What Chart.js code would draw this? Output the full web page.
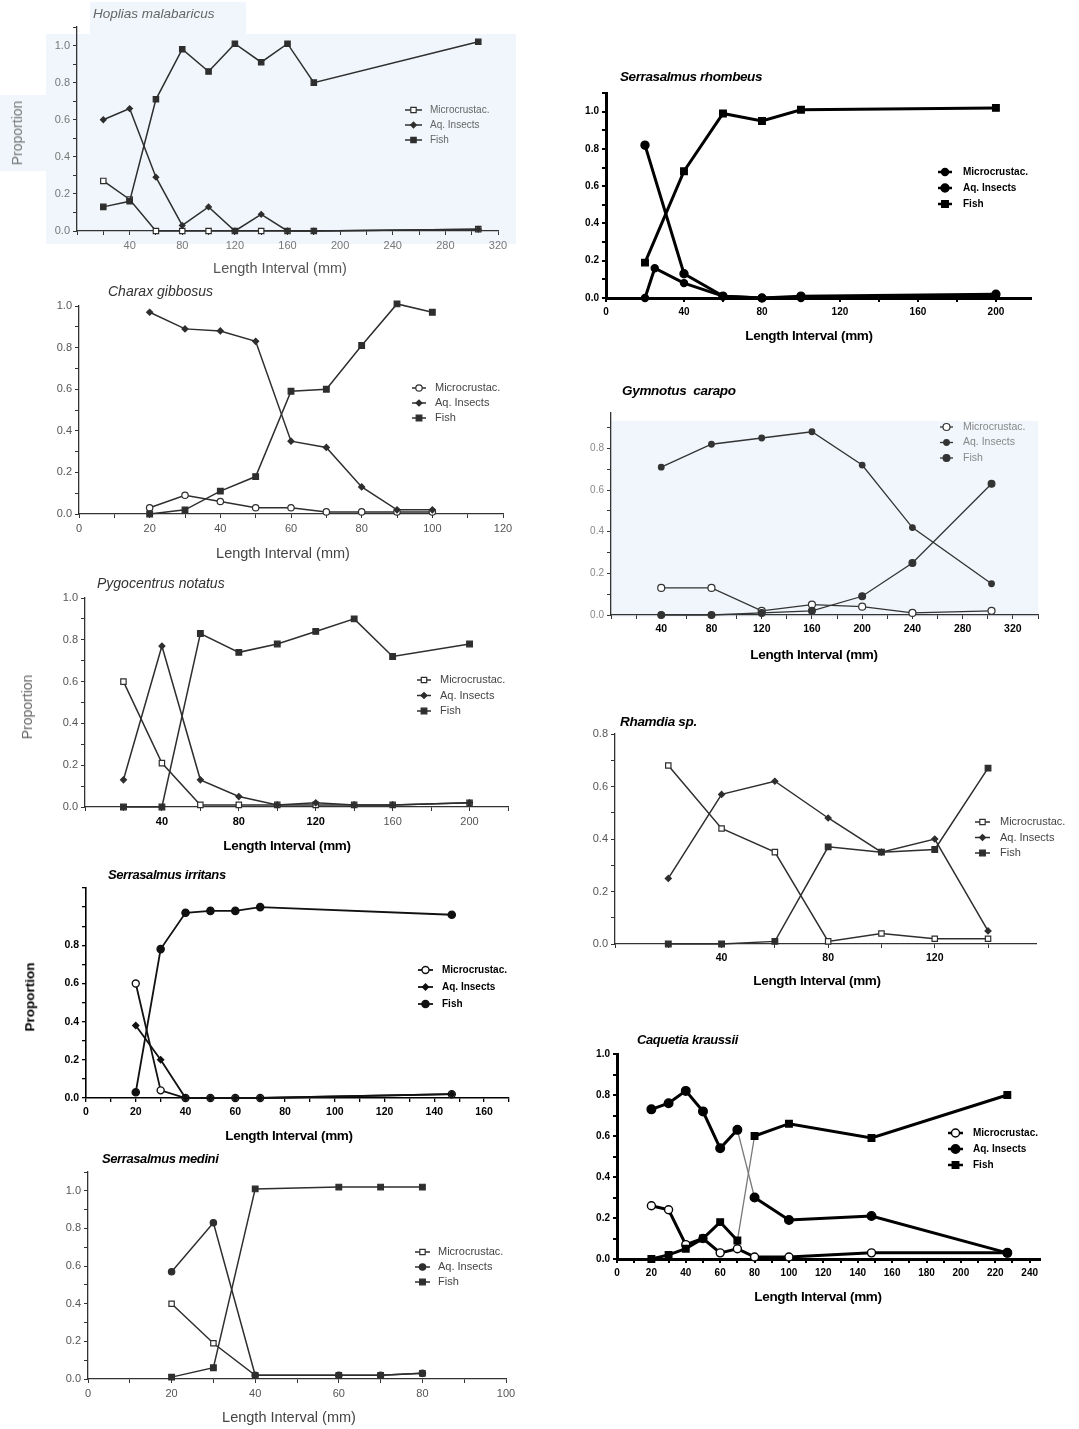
<!DOCTYPE html>
<html>
<head>
<meta charset="utf-8">
<script src="https://cdn.jsdelivr.net/npm/chart.js@4.4.1/dist/chart.umd.min.js"></script>
<style>
body { margin: 0; background: #fff; width: 1079px; height: 1429px; position: relative; overflow: hidden;
       font-family: 'Liberation Sans', Arial, sans-serif; }
canvas { position: absolute; }
.t { position: absolute; white-space: pre; line-height: 1; }
.bg { position: absolute; background: #f0f6fb; }
</style>
</head>
<body>
<div class="bg" style="left:46px;top:34px;width:470px;height:210px"></div>
<div class="bg" style="left:90px;top:2px;width:156px;height:34px"></div>
<div class="bg" style="left:0;top:95px;width:48px;height:76px"></div>
<div class="bg" style="left:610px;top:421px;width:428px;height:196px"></div>
<script>
// ---- data ----
var LABELS = ['Microcrustac.', 'Aq. Insects', 'Fish'];

var hopliasX = [20, 40, 60, 80, 100, 120, 140, 160, 180, 305];
var hopliasMicro = [0.27, 0.17, 0, 0, 0, 0, 0, 0, 0, 0.01];
var hopliasInsects = [0.60, 0.66, 0.29, 0.03, 0.13, 0.0, 0.09, 0.0, 0.0, 0.01];
var hopliasFish = [0.13, 0.16, 0.71, 0.98, 0.86, 1.01, 0.91, 1.01, 0.80, 1.02];

var charaxX = [20, 30, 40, 50, 60, 70, 80, 90, 100];
var charaxMicro = [0.03, 0.09, 0.06, 0.03, 0.03, 0.01, 0.01, 0.01, 0.01];
var charaxInsects = [0.97, 0.89, 0.88, 0.83, 0.35, 0.32, 0.13, 0.02, 0.02];
var charaxFish = [0.0, 0.02, 0.11, 0.18, 0.59, 0.60, 0.81, 1.01, 0.97];

var pygoX = [20, 40, 60, 80, 100, 120, 140, 160, 200];
var pygoMicro = [0.60, 0.21, 0.01, 0.01, 0.01, 0.01, 0.01, 0.01, 0.02];
var pygoInsects = [0.13, 0.77, 0.13, 0.05, 0.01, 0.02, 0.01, 0.01, 0.02];
var pygoFish = [0.0, 0.0, 0.83, 0.74, 0.78, 0.84, 0.90, 0.72, 0.78];

var irritansX = [20, 30, 40, 50, 60, 70, 147];
var irritansMicro = [0.60, 0.04, 0.0, 0.0, 0.0, 0.0, 0.02];
var irritansInsects = [0.38, 0.20, 0.0, 0.0, 0.0, 0.0, 0.02];
var irritansFish = [0.03, 0.78, 0.97, 0.98, 0.98, 1.00, 0.96];

var mediniX = [20, 30, 40, 60, 70, 80];
var mediniMicro = [0.40, 0.19, 0.02, 0.02, 0.02, 0.03];
var mediniInsects = [0.57, 0.83, 0.02, 0.02, 0.02, 0.03];
var mediniFish = [0.01, 0.06, 1.01, 1.02, 1.02, 1.02];

var rhombeusX = [20, 40, 60, 80, 100, 200];
var rhombeusMicroX = [20, 25, 40, 60, 80, 100, 200];
var rhombeusMicro = [0.0, 0.16, 0.08, 0.01, 0.0, 0.0, 0.01];
var rhombeusInsects = [0.82, 0.13, 0.01, 0.0, 0.01, 0.02];
var rhombeusFish = [0.19, 0.68, 0.99, 0.95, 1.01, 1.02];

var gymnotusX = [40, 80, 120, 160, 200, 240, 303];
var gymnotusMicro = [0.13, 0.13, 0.02, 0.05, 0.04, 0.01, 0.02];
var gymnotusInsects = [0.71, 0.82, 0.85, 0.88, 0.72, 0.42, 0.15];
var gymnotusFish = [0.0, 0.0, 0.01, 0.02, 0.09, 0.25, 0.63];

var rhamdiaX = [20, 40, 60, 80, 100, 120, 140];
var rhamdiaMicro = [0.68, 0.44, 0.35, 0.01, 0.04, 0.02, 0.02];
var rhamdiaInsects = [0.25, 0.57, 0.62, 0.48, 0.35, 0.40, 0.05];
var rhamdiaFish = [0.0, 0.0, 0.01, 0.37, 0.35, 0.36, 0.67];

var caquetiaX = [20, 30, 40, 50, 60, 70, 80, 100, 148, 227];
var caquetiaMicro = [0.26, 0.24, 0.07, 0.10, 0.03, 0.05, 0.01, 0.01, 0.03, 0.03];
var caquetiaInsects = [0.73, 0.76, 0.82, 0.72, 0.54, 0.63, 0.30, 0.19, 0.21, 0.03];
var caquetiaFish = [0.0, 0.02, 0.05, 0.10, 0.18, 0.09, 0.60, 0.66, 0.59, 0.80];

// ---- styles ----
var FONT = "'Liberation Sans', Arial, sans-serif";
var light = { line: '#2e2e2e', axis: '#333', text: '#555', lw: 1.5, aw: 1.3, tw: 1, r: 3.2, pw: 1.2,
              tick: { family: FONT, size: 11 }, leg: { font: '11px ' + FONT, color: '#444' } };
var pale = Object.assign({}, light, { text: '#777', leg: { font: '10px ' + FONT, color: '#666' } });
var bold = { line: '#111', axis: '#000', text: '#000', lw: 1.8, aw: 1.6, tw: 1.3, r: 3.5, pw: 1.4,
             tick: { family: FONT, size: 10.5, weight: 'bold' }, leg: { font: 'bold 10px ' + FONT, color: '#000' } };
var heavy = Object.assign({}, bold, { line: '#000', lw: 3, aw: 3, tw: 2, r: 4.3, tick: { family: FONT, size: 10, weight: 'bold' } });
var gym = Object.assign({}, light, { line: '#333', lw: 1.3, text: '#888', tick: { family: FONT, size: 10 },
                                      leg: { font: '10.5px ' + FONT, color: '#888' } });

function fmtY(max) {
  return function (v) {
    var k = Math.round(v * 10);
    return (k % 2 === 0 && v <= max + 1e-6) ? (k / 10).toFixed(1) : '';
  };
}
function fmtX(every, skipZero) {
  return function (v) {
    if (skipZero && v === 0) return '';
    return Math.abs(v % every) < 1e-6 ? String(v) : '';
  };
}

var sideLegend = {
  id: 'sideLegend',
  afterDraw: function (chart, args, o) {
    var ctx = chart.ctx;
    ctx.save();
    chart.data.datasets.forEach(function (ds, i) {
      var y = o.y + i * o.dy;
      ctx.strokeStyle = ds.borderColor;
      ctx.lineWidth = o.lw;
      ctx.beginPath();
      ctx.moveTo(o.x, y);
      ctx.lineTo(o.x + o.len, y);
      ctx.stroke();
      ctx.fillStyle = ds.pointBackgroundColor;
      ctx.strokeStyle = ds.pointBorderColor;
      ctx.lineWidth = ds.pointBorderWidth;
      Chart.helpers.drawPoint(ctx, { pointStyle: ds.pointStyle, radius: ds.pointRadius, borderWidth: ds.pointBorderWidth, rotation: 0 },
        o.x + o.len / 2, y);
      ctx.fillStyle = o.color;
      ctx.font = o.font;
      ctx.textBaseline = 'middle';
      ctx.textAlign = 'left';
      ctx.fillText(ds.label, o.tx, y);
    });
    ctx.restore();
  }
};

function addText(txt, x, y, css, mode) {
  var d = document.createElement('div');
  d.className = 't';
  d.textContent = txt;
  d.style.cssText += css;
  d.style.left = x + 'px';
  d.style.top = y + 'px';
  if (mode === 'left') d.style.transform = 'translate(0,-50%)';
  else if (mode === 'rot') d.style.transform = 'translate(-50%,-50%) rotate(-90deg)';
  else d.style.transform = 'translate(-50%,-50%)';
  document.body.appendChild(d);
}

function makePanel(p) {
  var padL = 70, padR = 34, padT = 12, padB = 44;
  var left = p.px0 - padL, top = p.py1 - padT;
  var w = p.px1 - p.px0 + padL + padR, h = p.py0 - p.py1 + padT + padB;
  var cv = document.createElement('canvas');
  cv.width = w; cv.height = h;
  cv.style.left = left + 'px'; cv.style.top = top + 'px';
  document.body.appendChild(cv);
  var st = p.style;

  var sets = p.series.map(function (s, i) {
    var ds = {
      label: LABELS[i],
      data: s.x.map(function (x, j) { return { x: x, y: s.y[j] }; }),
      showLine: true,
      borderColor: st.line,
      borderWidth: st.lw,
      pointStyle: s.mark,
      pointRadius: s.r || st.r,
      pointBackgroundColor: s.open ? '#fff' : st.line,
      pointBorderColor: st.line,
      pointBorderWidth: st.pw,
      order: 3 - i,
      clip: false
    };
    if (s.thinAt !== undefined) {
      ds.segment = {
        borderColor: function (c) { return c.p0.parsed.x === s.thinAt ? '#777' : undefined; },
        borderWidth: function (c) { return c.p0.parsed.x === s.thinAt ? 1.3 : undefined; }
      };
    }
    return ds;
  });

  new Chart(cv, {
    type: 'scatter',
    data: { datasets: sets },
    options: {
      responsive: false,
      animation: false,
      devicePixelRatio: 1,
      layout: { padding: { left: 0, right: padR, top: padT, bottom: 0 } },
      plugins: {
        legend: { display: false },
        tooltip: { enabled: false },
        sideLegend: {
          x: p.leg.x - left, y: p.leg.y - top, dy: p.leg.dy, len: p.leg.len, tx: p.leg.tx - left,
          font: st.leg.font, color: st.leg.color, lw: st.lw > 2 ? 2.5 : st.lw
        }
      },
      scales: {
        x: {
          type: 'linear', min: p.xmin, max: p.xmax,
          afterFit: function (s) { s.height = padB; },
          ticks: {
            stepSize: p.xStep, includeBounds: false, autoSkip: false, maxRotation: 0, padding: 4,
            color: p.xColor || st.text, font: p.xFont || st.tick, callback: fmtX(p.xEvery, p.xSkip0)
          },
          grid: { drawOnChartArea: false, drawTicks: true, tickLength: 4, color: st.axis, lineWidth: st.tw },
          border: { color: st.axis, width: st.aw }
        },
        y: {
          type: 'linear', min: 0, max: p.ymax,
          afterFit: function (s) { s.width = padL; },
          ticks: {
            stepSize: 0.1, includeBounds: false, autoSkip: false, padding: 3,
            color: st.text, font: st.tick, callback: fmtY(p.yLabMax)
          },
          grid: { drawOnChartArea: false, drawTicks: true, tickLength: 4, color: st.axis, lineWidth: st.tw },
          border: { color: st.axis, width: st.aw }
        }
      }
    },
    plugins: [sideLegend]
  });

  addText(p.title, p.tx, p.ty, p.tcss, 'left');
  addText('Length Interval (mm)', p.xl[0], p.xl[1], p.xlcss, 'center');
  if (p.yl) addText('Proportion', p.yl[0], p.yl[1], p.ylcss, 'rot');
}

var T_BOLD = 'font-size:13.5px;font-weight:bold;color:#000;letter-spacing:-0.3px;';

var PANELS = [
  { title: 'Hoplias malabaricus', tx: 93, ty: 14, tcss: 'font-size:13.5px;font-style:italic;color:#666;',
    px0: 77, px1: 498, py0: 231, py1: 27, xmin: 0, xmax: 320, ymax: 1.1, yLabMax: 1.0,
    xStep: 20, xEvery: 40, xSkip0: true, style: pale,
    series: [{ x: hopliasX, y: hopliasMicro, mark: 'rect', open: true, r: 3.8 },
             { x: hopliasX, y: hopliasInsects, mark: 'rectRot', r: 2.8 },
             { x: hopliasX, y: hopliasFish, mark: 'rect', r: 3.8 }],
    leg: { x: 405, y: 110, dy: 15, len: 17, tx: 430 },
    xl: [280, 268], xlcss: 'font-size:14.5px;color:#555;', yl: [17, 133], ylcss: 'font-size:14px;color:#777;' },

  { title: 'Charax gibbosus', tx: 108, ty: 291, tcss: 'font-size:14px;font-style:italic;color:#333;',
    px0: 79, px1: 503, py0: 514, py1: 306, xmin: 0, xmax: 120, ymax: 1.0, yLabMax: 1.0,
    xStep: 10, xEvery: 20, xSkip0: false, style: light,
    series: [{ x: charaxX, y: charaxMicro, mark: 'circle', open: true },
             { x: charaxX, y: charaxInsects, mark: 'rectRot', r: 3 },
             { x: charaxX, y: charaxFish, mark: 'rect', r: 4 }],
    leg: { x: 412, y: 388, dy: 15, len: 14, tx: 435 },
    xl: [283, 553], xlcss: 'font-size:14.5px;color:#444;' },

  { title: 'Pygocentrus notatus', tx: 97, ty: 583, tcss: 'font-size:14px;font-style:italic;color:#333;',
    px0: 85, px1: 508, py0: 807, py1: 598, xmin: 0, xmax: 220, ymax: 1.0, yLabMax: 1.0,
    xStep: 20, xEvery: 40, xSkip0: true, style: light,
    xFont: function (c) { return { family: FONT, size: 11, weight: c.tick && c.tick.value <= 120 ? 'bold' : 'normal' }; },
    xColor: function (c) { return c.tick && c.tick.value <= 120 ? '#000' : '#555'; },
    series: [{ x: pygoX, y: pygoMicro, mark: 'rect', open: true, r: 3.8 },
             { x: pygoX, y: pygoInsects, mark: 'rectRot', r: 3 },
             { x: pygoX, y: pygoFish, mark: 'rect', r: 4 }],
    leg: { x: 417, y: 680, dy: 15.5, len: 14, tx: 440 },
    xl: [287, 846], xlcss: T_BOLD, yl: [27, 707], ylcss: 'font-size:14px;color:#666;' },

  { title: 'Serrasalmus irritans', tx: 108, ty: 874, tcss: 'font-size:13px;font-style:italic;font-weight:bold;color:#000;letter-spacing:-0.4px;',
    px0: 86, px1: 509, py0: 1098, py1: 888, xmin: 0, xmax: 170, ymax: 1.1, yLabMax: 0.8,
    xStep: 10, xEvery: 20, xSkip0: false, style: bold,
    series: [{ x: irritansX, y: irritansMicro, mark: 'circle', open: true },
             { x: irritansX, y: irritansInsects, mark: 'rectRot', r: 3 },
             { x: irritansX, y: irritansFish, mark: 'circle', r: 3.6 }],
    leg: { x: 418, y: 970, dy: 17, len: 15, tx: 442 },
    xl: [289, 1136], xlcss: T_BOLD, yl: [30, 997], ylcss: 'font-size:13.5px;font-weight:bold;color:#000;' },

  { title: 'Serrasalmus medini', tx: 102, ty: 1158, tcss: 'font-size:13px;font-style:italic;font-weight:bold;color:#000;letter-spacing:-0.4px;',
    px0: 88, px1: 506, py0: 1379, py1: 1172, xmin: 0, xmax: 100, ymax: 1.1, yLabMax: 1.0,
    xStep: 10, xEvery: 20, xSkip0: false, style: light,
    series: [{ x: mediniX, y: mediniMicro, mark: 'rect', open: true, r: 3.8 },
             { x: mediniX, y: mediniInsects, mark: 'circle', r: 3.2 },
             { x: mediniX, y: mediniFish, mark: 'rect', r: 4 }],
    leg: { x: 415, y: 1252, dy: 15, len: 15, tx: 438 },
    xl: [289, 1417], xlcss: 'font-size:14.5px;color:#444;' },

  { title: 'Serrasalmus rhombeus', tx: 620, ty: 77, tcss: 'font-size:13.5px;font-style:italic;font-weight:bold;color:#000;letter-spacing:-0.4px;',
    px0: 606, px1: 1031, py0: 298, py1: 93, xmin: 0, xmax: 218, ymax: 1.1, yLabMax: 1.0,
    xStep: 20, xEvery: 40, xSkip0: false, style: heavy,
    series: [{ x: rhombeusMicroX, y: rhombeusMicro, mark: 'circle', r: 3.5 },
             { x: rhombeusX, y: rhombeusInsects, mark: 'circle', r: 4 },
             { x: rhombeusX, y: rhombeusFish, mark: 'rect', r: 4.6 }],
    leg: { x: 938, y: 172, dy: 16, len: 14, tx: 963 },
    xl: [809, 336], xlcss: T_BOLD },

  { title: 'Gymnotus  carapo', tx: 622, ty: 391, tcss: 'font-size:13.5px;font-style:italic;font-weight:bold;color:#000;letter-spacing:-0.3px;',
    px0: 611, px1: 1038, py0: 615, py1: 413, xmin: 0, xmax: 340, ymax: 0.97, yLabMax: 0.8,
    xStep: 20, xEvery: 40, xSkip0: true, style: gym,
    xFont: { family: FONT, size: 10.5, weight: 'bold' }, xColor: '#000',
    series: [{ x: gymnotusX, y: gymnotusMicro, mark: 'circle', open: true, r: 3.5 },
             { x: gymnotusX, y: gymnotusInsects, mark: 'circle', r: 2.8 },
             { x: gymnotusX, y: gymnotusFish, mark: 'circle', r: 3.4 }],
    leg: { x: 940, y: 427, dy: 15.5, len: 13, tx: 963 },
    xl: [814, 655], xlcss: T_BOLD },

  { title: 'Rhamdia sp.', tx: 620, ty: 722, tcss: 'font-size:13.5px;font-style:italic;font-weight:bold;color:#000;letter-spacing:-0.3px;',
    px0: 615, px1: 1036, py0: 944, py1: 734, xmin: 0, xmax: 158, ymax: 0.8, yLabMax: 0.8,
    xStep: 20, xEvery: 40, xSkip0: true, style: light,
    xFont: { family: FONT, size: 10.5, weight: 'bold' }, xColor: '#000',
    series: [{ x: rhamdiaX, y: rhamdiaMicro, mark: 'rect', open: true, r: 3.8 },
             { x: rhamdiaX, y: rhamdiaInsects, mark: 'rectRot', r: 3 },
             { x: rhamdiaX, y: rhamdiaFish, mark: 'rect', r: 4 }],
    leg: { x: 975, y: 822, dy: 15.5, len: 15, tx: 1000 },
    xl: [817, 981], xlcss: T_BOLD },

  { title: 'Caquetia kraussii', tx: 637, ty: 1039, tcss: 'font-size:13px;font-style:italic;font-weight:bold;color:#000;letter-spacing:-0.4px;',
    px0: 617, px1: 1040, py0: 1259, py1: 1054, xmin: 0, xmax: 246, ymax: 1.0, yLabMax: 1.0,
    xStep: 10, xEvery: 20, xSkip0: false, style: heavy,
    series: [{ x: caquetiaX, y: caquetiaMicro, mark: 'circle', open: true, r: 4 },
             { x: caquetiaX, y: caquetiaInsects, mark: 'circle', r: 4.3, thinAt: 70 },
             { x: caquetiaX, y: caquetiaFish, mark: 'rect', r: 4.6, thinAt: 70 }],
    leg: { x: 948, y: 1133, dy: 16, len: 15, tx: 973 },
    xl: [818, 1297], xlcss: T_BOLD }
];

PANELS.forEach(makePanel);
</script>
</body>
</html>
